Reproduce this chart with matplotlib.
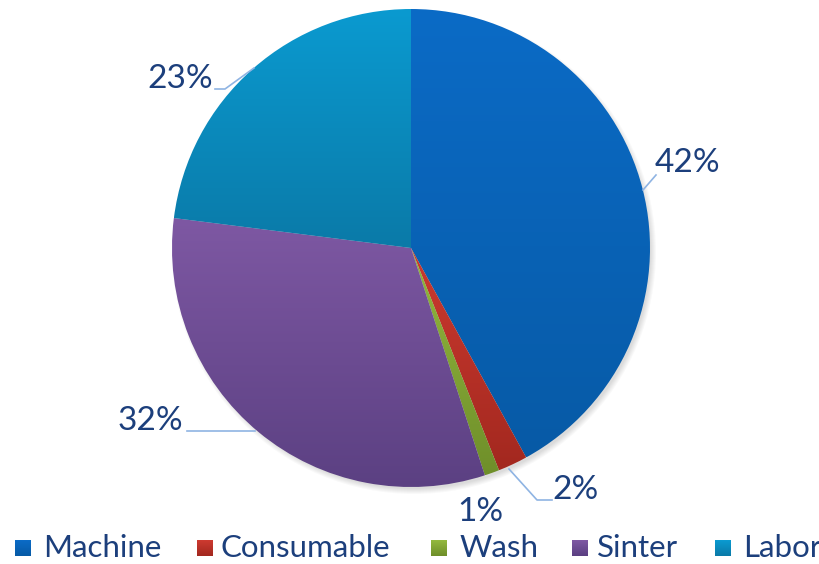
import matplotlib
matplotlib.use("Agg")
import matplotlib.pyplot as plt
import numpy as np
from matplotlib.patches import Circle, Rectangle

categories = ["Machine", "Consumable", "Wash", "Sinter", "Labor"]
shares = [42, 2, 1, 32, 23]
pct_labels = ["42%", "2%", "1%", "32%", "23%"]

# light (top) and dark (bottom) colour of each slice's gradient
top_colors = ["#0b6bc6", "#cc3a30", "#93b83e", "#7e58a3", "#0b9ad0"]
bottom_colors = ["#075aa6", "#a3281f", "#6f8f2a", "#5b4082", "#0a7aa8"]

text_color = "#1c3f7c"
line_color = "#8fb4e3"
font = ["Lato", "DejaVu Sans"]

fig = plt.figure(figsize=(8.2, 5.64), dpi=100)
ax = fig.add_axes([0, 0, 1, 1])

cx, cy, r = 411, 248, 239

# soft shadow behind the pie
for k in range(6):
    ax.add_patch(Circle((cx + 3, cy + 4), r + 3 - k, color="black",
                        alpha=0.025, lw=0, zorder=0))

# y axis points down, so -90 is the top and counter-clockwise in data
# space reads clockwise on screen
wedges, _ = ax.pie(shares, startangle=-90, counterclock=True,
                   center=(cx, cy), radius=r,
                   wedgeprops=dict(linewidth=0))

ax.set_xlim(0, 820)
ax.set_ylim(564, 0)
ax.set_aspect("equal")
ax.axis("off")

for w, c_top, c_bot in zip(wedges, top_colors, bottom_colors):
    w.set_facecolor("none")
    verts = w.get_path().vertices
    ymin, ymax = verts[:, 1].min(), verts[:, 1].max()
    xmin, xmax = verts[:, 0].min(), verts[:, 0].max()
    t = np.linspace(0, 1, 128)[:, None]
    c0 = np.array(matplotlib.colors.to_rgb(c_top))
    c1 = np.array(matplotlib.colors.to_rgb(c_bot))
    grad = (c0 * (1 - t) + c1 * t)[:, None, :]
    im = ax.imshow(grad, extent=(xmin, xmax, ymax, ymin), aspect="auto",
                   zorder=2, interpolation="bilinear")
    im.set_clip_path(w)

ax.set_xlim(0, 820)
ax.set_ylim(564, 0)

# leader lines
leaders = [
    [(643, 190), (656, 175)],
    [(509, 469), (537, 500), (552, 500)],
    [(255, 431), (187, 431)],
    [(254, 68), (225, 89), (215, 89)],
]
for pts in leaders:
    xs, ys = zip(*pts)
    ax.plot(xs, ys, color=line_color, lw=1.2, zorder=3)

label_pos = [(687, 163), (576, 490), (480, 512), (150, 421), (180, 79)]
for lab, (x, y) in zip(pct_labels, label_pos):
    ax.text(x, y, lab, ha="center", va="center", fontsize=24,
            color=text_color, family=font)

# legend row
sq_x = [23, 205, 439, 580, 723]
txt_x = [43, 221, 460, 597, 743]
for name, x, tx, c_top, c_bot in zip(categories, sq_x, txt_x,
                                     top_colors, bottom_colors):
    sq = Rectangle((x - 8, 540), 16, 16, facecolor="none", lw=0)
    ax.add_patch(sq)
    t = np.linspace(0, 1, 16)[:, None]
    c0 = np.array(matplotlib.colors.to_rgb(c_top))
    c1 = np.array(matplotlib.colors.to_rgb(c_bot))
    im = ax.imshow((c0 * (1 - t) + c1 * t)[:, None, :],
                   extent=(x - 8, x + 8, 556, 540), aspect="auto")
    im.set_clip_path(sq)
    ax.text(tx, 548, name, ha="left", va="center", fontsize=22.5,
            color=text_color, family=font)

ax.set_xlim(0, 820)
ax.set_ylim(564, 0)

fig.savefig("out.png", dpi=100)
